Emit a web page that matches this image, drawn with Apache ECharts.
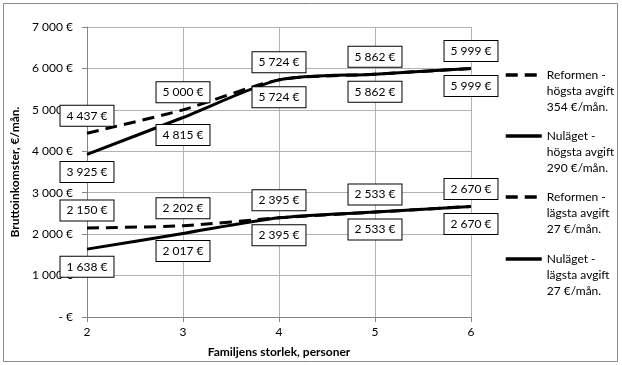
<!DOCTYPE html>
<html>
<head>
<meta charset="utf-8">
<script src="https://cdn.jsdelivr.net/npm/echarts@6/dist/echarts.min.js"></script>
<style>html,body{margin:0;padding:0;background:#fff}#c{width:622px;height:365px}</style>
</head>
<body>
<div id="c"></div>
<script>
const familySize = [2, 3, 4, 5, 6];
const reformenHogsta = [4437, 5000, 5724, 5862, 5999];
const nulagetHogsta = [3925, 4815, 5724, 5862, 5999];
const reformenLagsta = [2150, 2202, 2395, 2533, 2670];
const nulagetLagsta = [1638, 2017, 2395, 2533, 2670];
const seriesNames = [
  'Reformen -\nhögsta avgift\n354 €/mån.',
  'Nuläget -\nhögsta avgift\n290 €/mån.',
  'Reformen -\nlägsta avgift\n27 €/mån.',
  'Nuläget -\nlägsta avgift\n27 €/mån.'
];
const yTicks = [0, 1000, 2000, 3000, 4000, 5000, 6000, 7000];
const xTitle = 'Familjens storlek, personer';
const yTitle = 'Bruttoinkomster, €/mån.';

const FONT = 'Lato';
function fmt(v) {
  if (v === 0) return '- €';
  return String(v).replace(/\B(?=(\d{3})+(?!\d))/g, ' ') + ' €';
}
function pairs(arr) { return familySize.map((x, i) => [x, arr[i]]); }

function mkSeries(name, data, dashed, labelPos) {
  return {
    name: name,
    type: 'line',
    data: pairs(data),
    smooth: 0.25,
    symbol: 'circle',
    symbolSize: 1,
    showSymbol: true,
    lineStyle: { color: '#000', width: 3, type: dashed ? [12, 7] : 'solid' },
    itemStyle: { color: 'rgba(0,0,0,0)', borderWidth: 0 },
    label: {
      show: true,
      position: labelPos,
      distance: 7,
      formatter: p => fmt(p.value[1]),
      fontFamily: FONT, fontSize: 12, color: '#000',
      backgroundColor: '#fff', borderColor: '#000', borderWidth: 1,
      padding: [4, 6, 4, 6]
    },
    labelLayout: { hideOverlap: false },
    emphasis: { disabled: true }
  };
}

const legendTops = [35, 96, 157, 219];
const chart = echarts.init(document.getElementById('c'), null, { renderer: 'canvas' });
chart.setOption({
  animation: false,
  backgroundColor: '#fff',
  grid: { left: 87, right: 151, top: 27, bottom: 48 },
  legend: seriesNames.map((n, i) => ({
    data: [n],
    left: 504,
    top: legendTops[i],
    orient: 'vertical',
    padding: 0,
    itemWidth: 36,
    itemHeight: 14,
    selectedMode: false,
    itemStyle: { opacity: 0 },
    lineStyle: { width: 3.5 },
    formatter: name => '\n\n' + name,
    textStyle: { fontFamily: FONT, fontSize: 12, color: '#000', lineHeight: 16 }
  })),
  xAxis: {
    type: 'value', min: 2, max: 6, interval: 1,
    name: xTitle, nameLocation: 'middle', nameGap: 29,
    nameTextStyle: { fontFamily: FONT, fontSize: 12, fontWeight: 'bold', color: '#000' },
    axisLine: { show: true, lineStyle: { color: '#868686', width: 1 } },
    axisTick: { show: true, inside: false, length: 5, lineStyle: { color: '#868686' } },
    axisLabel: { fontFamily: FONT, fontSize: 12, color: '#000', margin: 9 },
    splitLine: { show: true, lineStyle: { color: '#b3b3b3', width: 1 } }
  },
  yAxis: {
    type: 'value', min: yTicks[0], max: yTicks[yTicks.length - 1], interval: 1000,
    name: yTitle, nameLocation: 'middle', nameGap: 64, nameRotate: 90,
    nameTextStyle: { fontFamily: FONT, fontSize: 12, fontWeight: 'bold', color: '#000' },
    axisLine: { show: true, lineStyle: { color: '#868686', width: 1 } },
    axisTick: { show: true, inside: false, length: 5, lineStyle: { color: '#868686' } },
    axisLabel: { fontFamily: FONT, fontSize: 12, color: '#000', margin: 14, formatter: fmt },
    splitLine: { show: true, lineStyle: { color: '#b3b3b3', width: 1 } }
  },
  graphic: [{
    type: 'rect', silent: true,
    shape: { x: 3.5, y: 3.5, width: 614, height: 358 },
    style: { fill: 'none', stroke: '#8c8c8c', lineWidth: 1 }
  }],
  series: [
    mkSeries(seriesNames[0], reformenHogsta, true, 'top'),
    mkSeries(seriesNames[1], nulagetHogsta, false, 'bottom'),
    mkSeries(seriesNames[2], reformenLagsta, true, 'top'),
    mkSeries(seriesNames[3], nulagetLagsta, false, 'bottom')
  ]
});
</script>
</body>
</html>
